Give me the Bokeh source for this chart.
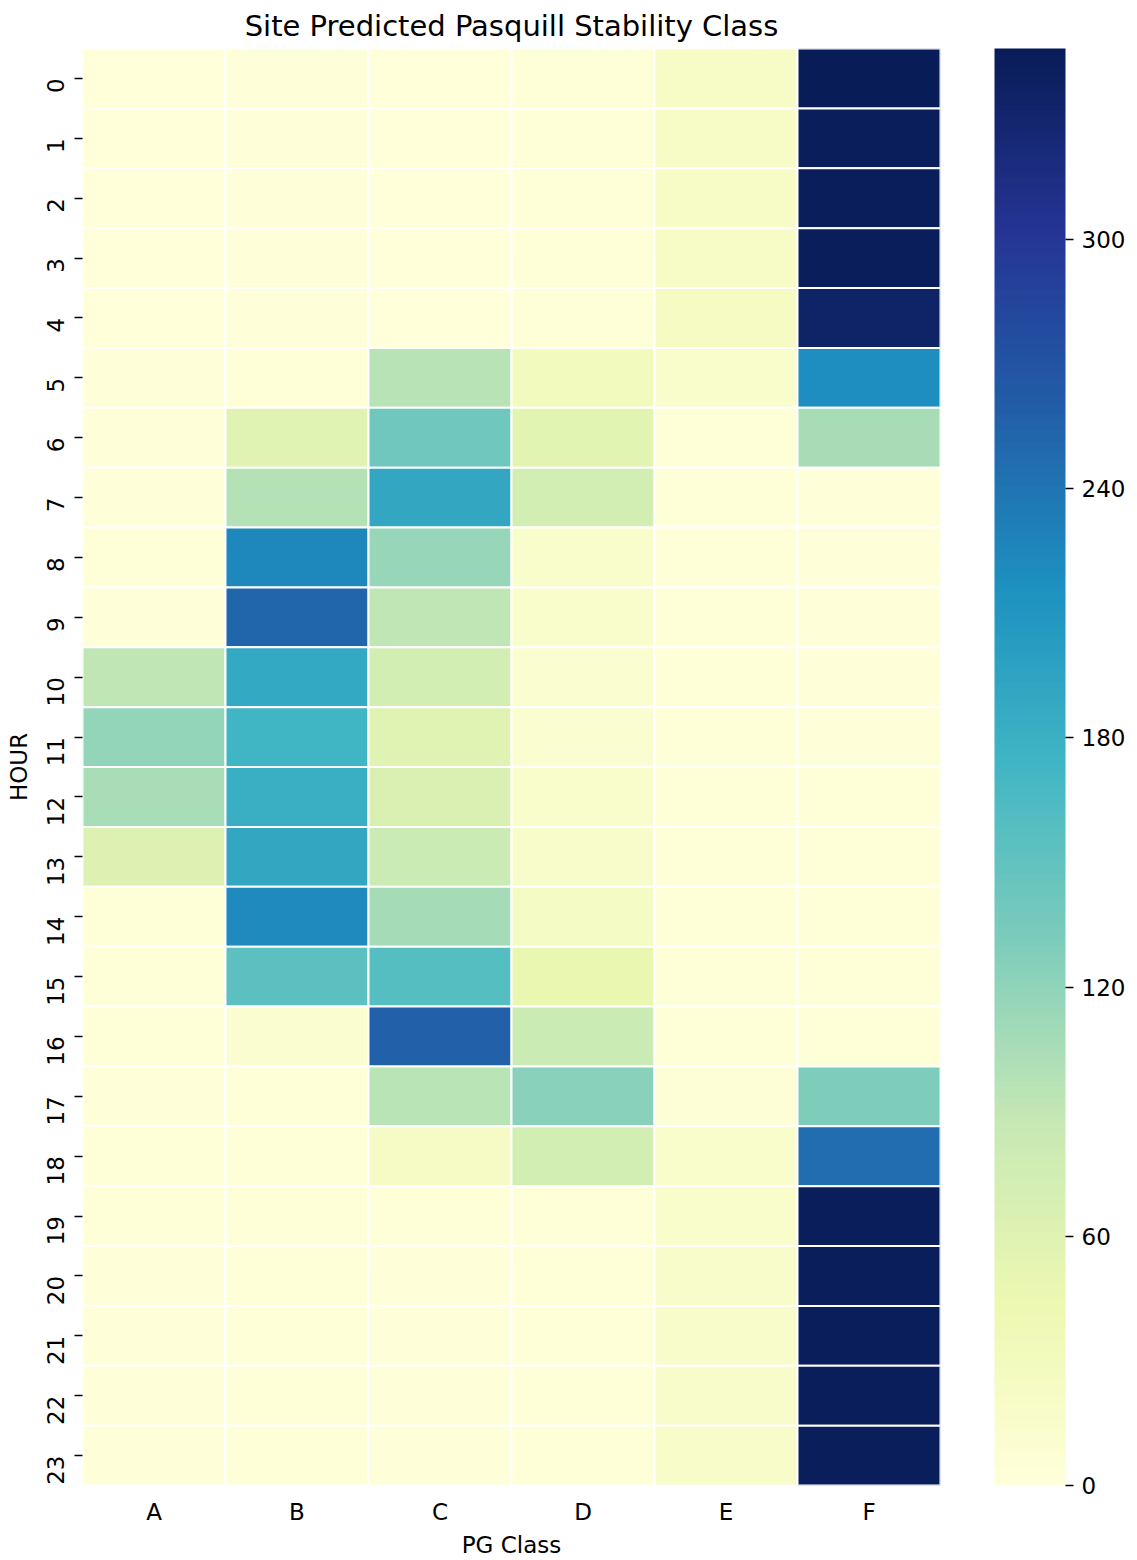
import numpy as np
from bokeh.plotting import figure
from bokeh.models import ColumnDataSource, LinearColorMapper, ColorBar, FixedTicker, FactorRange
from bokeh.transform import transform
from bokeh.embed import file_html
from bokeh.resources import INLINE

# ---- data ----
hours = [str(h) for h in range(24)]
classes = ["A", "B", "C", "D", "E", "F"]
class_A = [1, 1, 1, 1, 1, 2, 2, 2, 3, 2, 91, 118, 105, 63, 3, 3, 3, 2, 3, 3, 2, 2, 2, 2]
class_B = [2, 2, 2, 2, 2, 3, 57, 98, 224, 254, 189, 173, 182, 190, 222, 153, 11, 4, 3, 3, 3, 3, 3, 3]
class_C = [1, 1, 1, 1, 1, 97, 141, 190, 116, 91, 74, 59, 65, 82, 107, 159, 258, 95, 22, 3, 2, 2, 2, 2]
class_D = [4, 4, 4, 4, 4, 30, 56, 73, 15, 16, 12, 12, 14, 17, 24, 47, 82, 124, 73, 3, 4, 4, 4, 4]
class_E = [20, 20, 20, 20, 25, 14, 3, 3, 3, 3, 3, 3, 3, 3, 3, 3, 3, 5, 14, 15, 17, 17, 17, 18]
class_F = [346, 343, 343, 342, 334, 218, 106, 2, 2, 2, 2, 2, 3, 3, 3, 3, 3, 131, 246, 343, 343, 343, 343, 343]
colorbar_ticks = [0, 60, 120, 180, 240, 300]

series = {"A": class_A, "B": class_B, "C": class_C, "D": class_D, "E": class_E, "F": class_F}

xs, ys, vals = [], [], []
for c in classes:
    for h, v in zip(hours, series[c]):
        xs.append(c)
        ys.append(h)
        vals.append(v)
source = ColumnDataSource(dict(pg=xs, hour=ys, value=vals))

# YlGnBu colormap (matplotlib stops), interpolated to 256 colours
stops = ["#ffffd9", "#edf8b1", "#c7e9b4", "#7fcdbb", "#41b6c4",
         "#1d91c0", "#225ea8", "#253494", "#081d58"]
rgb = np.array([[int(s[i:i + 2], 16) for i in (1, 3, 5)] for s in stops], dtype=float)
pos = np.linspace(0, 1, len(stops))
t = np.linspace(0, 1, 256)
pal = ["#%02x%02x%02x" % tuple(int(round(np.interp(tt, pos, rgb[:, k]))) for k in range(3)) for tt in t]

mapper = LinearColorMapper(palette=pal, low=0, high=max(vals))

FONT = "DejaVu Sans"
TXT = "#000000"

W, H = 1137, 1560
p = figure(width=W, height=H,
           x_range=FactorRange(factors=classes, range_padding=0),
           y_range=FactorRange(factors=list(reversed(hours)), range_padding=0),
           output_backend="svg", toolbar_location=None,
           min_border_left=82, min_border_right=W - 940, min_border_top=48,
           min_border_bottom=H - 1485,
           title="Site Predicted Pasquill Stability Class")
p.outline_line_color = None
p.grid.grid_line_color = None
p.background_fill_color = "white"

p.rect(x="pg", y="hour", width=1, height=1, source=source,
       fill_color=transform("value", mapper), line_color="white", line_width=2)

p.title.align = "center"
p.title.text_font = FONT
p.title.text_font_size = "29px"
p.title.text_font_style = "normal"
p.title.text_color = TXT
p.title.standoff = 12

for ax in (p.xaxis[0], p.yaxis[0]):
    ax.axis_line_color = None
    ax.major_label_text_font = FONT
    ax.major_label_text_font_size = "23px"
    ax.major_label_text_color = TXT
    ax.axis_label_text_font = FONT
    ax.axis_label_text_font_size = "23px"
    ax.axis_label_text_font_style = "normal"
    ax.axis_label_text_color = TXT
    ax.minor_tick_line_color = None

p.xaxis.axis_label = "PG Class"
p.xaxis.major_tick_line_color = None
p.xaxis.major_tick_out = 0
p.xaxis.major_tick_in = 0
p.xaxis.major_label_standoff = 13
p.xaxis.axis_label_standoff = 4

p.yaxis.axis_label = "HOUR"
p.yaxis.major_label_orientation = np.pi / 2
p.yaxis.major_tick_out = 8
p.yaxis.major_tick_in = 0
p.yaxis.major_tick_line_color = TXT
p.yaxis.major_tick_line_width = 1.5
p.yaxis.major_label_standoff = 19
p.yaxis.axis_label_standoff = 4

cb = ColorBar(color_mapper=mapper, ticker=FixedTicker(ticks=colorbar_ticks),
              width=71, height=1437, padding=0, margin=0,
              major_tick_out=8, major_tick_in=0, major_tick_line_color=TXT,
              major_tick_line_width=1.5,
              major_label_text_font=FONT, major_label_text_font_size="23px",
              major_label_text_color=TXT, label_standoff=8,
              bar_line_color=None, border_line_color=None,
              background_fill_color=None, location=(54, 0))
p.add_layout(cb, "right")

open("out.html", "w").write(file_html(p, INLINE))
